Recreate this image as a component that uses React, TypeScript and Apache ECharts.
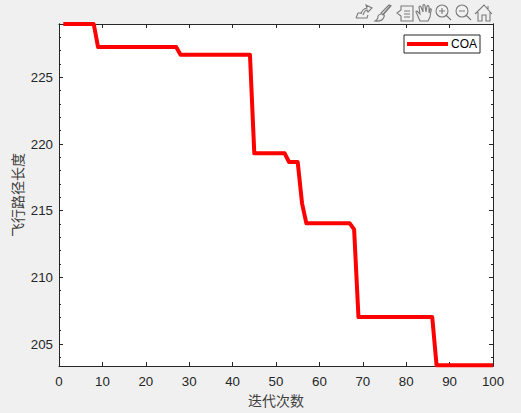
import React, { useEffect, useRef } from "react";
import * as echarts from "echarts";

const iterations = [1, 8, 9, 27, 28, 44, 45, 52, 53, 55, 56, 57, 67, 68, 69, 86, 87, 100];
const pathLengths = [229, 229, 227.27, 227.27, 226.7, 226.7, 219.3, 219.3, 218.65, 218.65, 215.55, 214.05, 214.05, 213.6, 207.02, 207.02, 203.4, 203.4];
const yMajorTicks = [205, 210, 215, 220, 225];
const yMinorTicks = [204, 206, 207, 208, 209, 211, 212, 213, 214, 216, 217, 218, 219, 221, 222, 223, 224, 226, 227, 228];
const seriesName = "COA";
const xTitle = "迭代次数";
const yTitle = "飞行路径长度";

const icons: Record<string, string> = {
  tbExport: "M356 18 L358 13 L362 13 M356 18 L367 18 L368 15 M361 14 Q362 9 367 8 L366 5 L372 8 L368 12 L367 10 Q364 11 363 15",
  tbBrush: "M391 5 L383 14 M389 5 L381 13 L383 15 L391 6 Z M381 14 Q377 15 378 18 Q377 20 375 21 Q382 22 384 17 Q385 15 383 14 Z",
  tbTip: "M401 6 L413 6 L413 21 L401 21 L401 16 L397 13 L401 10 Z M404 11 L410 11 M404 14 L410 14 M404 17 L410 17",
  tbHand: "M420 21 L417 14 Q415 11 417 11 L420 14 L419 7 Q420 5 421 7 L423 12 L423 5 Q425 4 425 6 L426 12 L427 6 Q429 5 429 7 L429 13 L430 9 Q432 8 431 11 L430 17 L428 21 Z",
  tbZoomIn: "M448 11 A6 6 0 1 1 436 11 A6 6 0 1 1 448 11 Z M446 15 L451 20 M439 11 L445 11 M442 8 L442 14",
  tbZoomOut: "M468 11 A6 6 0 1 1 456 11 A6 6 0 1 1 468 11 Z M466 15 L471 20 M459 11 L465 11",
  tbHome: "M475 14 L484 5 L492 14 M478 12 L478 21 L482 21 L482 15 L486 15 L486 21 L490 21 L490 12 M488 6 L488 9",
};
Object.keys(icons).forEach((k) => {
  echarts.graphic.registerShape(k, echarts.graphic.extendPath(icons[k], {}) as any);
});

const ink = "#262626";
const labelFont = { color: ink, fontFamily: "Liberation Sans", fontSize: 13.3 };

function hiddenLabels() {
  return { show: false };
}

export default function App() {
  const ref = useRef<HTMLDivElement>(null);
  useEffect(() => {
    document.body.style.margin = "0";
    document.body.style.background = "#f0f0f0";
    const chart = echarts.init(ref.current!, null, { renderer: "svg" });
    const xBase = { type: "value", min: 0, max: 100, interval: 10, splitLine: { show: false }, axisLine: { show: true, onZero: false, lineStyle: { color: ink, width: 1 } } };
    const yBase = { type: "value", min: 203.35, max: 229, splitLine: { show: false }, axisLine: { show: true, onZero: false, lineStyle: { color: ink, width: 1 } } };
    const tick = (customValues: number[], length: number) => ({ show: true, inside: true, length, customValues, lineStyle: { color: ink, width: 1 } });
    chart.setOption({
      animation: false,
      backgroundColor: "#f0f0f0",
      grid: { left: 59, top: 24, width: 434, height: 342, backgroundColor: "#ffffff", show: true, borderWidth: 0, containLabel: false, outerBoundsMode: "none" },
      xAxis: [
        { ...xBase, position: "bottom", axisTick: { show: true, inside: true, length: 4, lineStyle: { color: ink } }, axisLabel: { ...labelFont, margin: 9 },
          name: xTitle, nameLocation: "middle", nameGap: 27, nameTextStyle: { color: "#404040", fontFamily: "Noto Sans CJK SC", fontSize: 14 } },
        { ...xBase, position: "top", axisTick: { show: true, inside: true, length: 4, lineStyle: { color: ink } }, axisLabel: hiddenLabels() },
      ],
      yAxis: [
        { ...yBase, position: "left", axisTick: tick(yMajorTicks, 4), axisLabel: { ...labelFont, margin: 6, customValues: yMajorTicks },
          name: yTitle, nameLocation: "middle", nameGap: 35, nameMoveOverlap: false, nameTextStyle: { color: "#404040", fontFamily: "Noto Sans CJK SC", fontSize: 14 } },
        { ...yBase, position: "left", axisTick: tick(yMinorTicks, 2), axisLabel: hiddenLabels() },
        { ...yBase, position: "right", axisTick: tick(yMajorTicks, 4), axisLabel: hiddenLabels() },
        { ...yBase, position: "right", axisTick: tick(yMinorTicks, 2), axisLabel: hiddenLabels() },
      ],
      legend: {
        show: true, left: 404, top: 35, orient: "horizontal", padding: [3, 3, 3, 3], itemGap: 0, icon: "rect",
        itemWidth: 41, itemHeight: 4, borderColor: ink, borderWidth: 1, backgroundColor: "#ffffff",
        itemStyle: { color: "#ff0000", borderWidth: 0 },
        textStyle: { color: "#000000", fontFamily: "Liberation Sans", fontSize: 12, padding: [0, 0, 0, -2] },
        data: [seriesName],
      },
      graphic: Object.keys(icons).map((k) => ({
        type: k, x: 0, y: 0, silent: true,
        style: { fill: "none", stroke: "#7a7a7a", lineWidth: 1.1 },
      })),
      series: [
        { type: "line", name: seriesName, xAxisIndex: 0, yAxisIndex: 0, symbol: "none", clip: false, z: 5,
          lineStyle: { color: "#ff0000", width: 4, join: "round", cap: "butt" }, itemStyle: { color: "#ff0000" },
          data: iterations.map((x, i) => [x, pathLengths[i]]) },
      ],
    });
    return () => chart.dispose();
  }, []);
  return <div ref={ref} style={{ width: 521, height: 413 }} />;
}
